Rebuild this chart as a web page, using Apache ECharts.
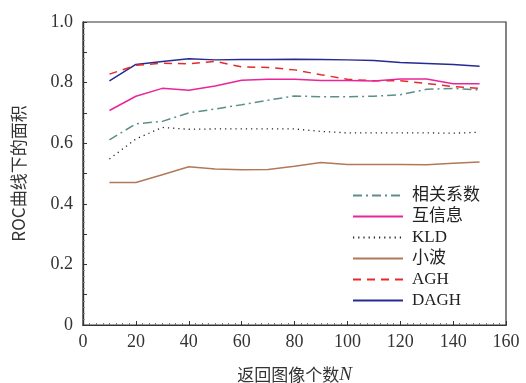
<!DOCTYPE html>
<html>
<head>
<meta charset="utf-8">
<script src="https://cdn.jsdelivr.net/npm/echarts@6/dist/echarts.min.js"></script>
<style>
html,body{margin:0;padding:0;background:#fff;}
#c{width:526px;height:383px;}
</style>
</head>
<body>
<div id="c"></div>
<script>
const xValues = [10, 20, 30, 40, 50, 60, 70, 80, 90, 100, 110, 120, 130, 140, 150];
const seriesNames = ['相关系数', '互信息', 'KLD', '小波', 'AGH', 'DAGH'];
const corr    = [0.611, 0.664, 0.672, 0.700, 0.713, 0.727, 0.742, 0.756, 0.753, 0.753, 0.755, 0.760, 0.778, 0.781, 0.776];
const mutual  = [0.708, 0.755, 0.781, 0.775, 0.789, 0.808, 0.811, 0.811, 0.807, 0.807, 0.805, 0.812, 0.812, 0.796, 0.796];
const kld     = [0.548, 0.614, 0.652, 0.646, 0.647, 0.647, 0.647, 0.647, 0.639, 0.634, 0.634, 0.634, 0.634, 0.633, 0.636];
const wavelet = [0.470, 0.470, 0.496, 0.522, 0.515, 0.512, 0.513, 0.524, 0.536, 0.530, 0.530, 0.530, 0.529, 0.534, 0.538];
const agh     = [0.828, 0.857, 0.864, 0.862, 0.870, 0.852, 0.850, 0.842, 0.826, 0.811, 0.806, 0.806, 0.797, 0.787, 0.781];
const dagh    = [0.806, 0.860, 0.870, 0.879, 0.875, 0.876, 0.876, 0.877, 0.876, 0.875, 0.873, 0.866, 0.863, 0.860, 0.854];
const yTickLabels = ['0', '0.2', '0.4', '0.6', '0.8', '1.0'];

const serif = '"Liberation Serif", "DejaVu Serif", "Noto Sans CJK SC", serif';
const cjk = '"Noto Sans CJK SC", sans-serif';
const colors = ['#5e8e8a', '#e8259a', '#222222', '#b07a58', '#e52a2a', '#262a92'];
const styles = [[9, 4, 2, 4], 'solid', [1.2, 4], 'solid', [8, 6], 'solid'];
const dataSets = [corr, mutual, kld, wavelet, agh, dagh];

function pairs(vals) { return xValues.map((x, i) => [x, vals[i]]); }

const axisLineStyle = { color: '#333', width: 1.2 };
const chart = echarts.init(document.getElementById('c'));
chart.setOption({
  animation: false,
  backgroundColor: '#fff',
  grid: { left: 83, right: 20, top: 22, bottom: 58, show: true, borderColor: '#333', borderWidth: 1.2,
          containLabel: false, outerBoundsMode: 'none' },
  legend: {
    orient: 'vertical', left: 347, top: 182,
    itemWidth: 50, itemHeight: 14, itemGap: 4,
    itemStyle: { opacity: 0 },
    textStyle: { fontFamily: serif, fontSize: 17, color: '#222', padding: [0, 0, 0, 4] },
    data: seriesNames
  },
  xAxis: [{
    type: 'value', min: 0, max: 160, interval: 20,
    axisLine: { lineStyle: axisLineStyle },
    axisTick: { inside: true, length: 4, lineStyle: { color: '#333' } },
    minorTick: { show: true, splitNumber: 8, length: 2, lineStyle: { color: '#777' } },
    splitLine: { show: false },
    axisLabel: { fontFamily: serif, fontSize: 18, color: '#333', margin: 8 },
    name: '{a|返回图像个数}{b|N}', nameLocation: 'middle', nameGap: 40,
    nameTextStyle: { rich: {
      a: { fontFamily: cjk, fontSize: 17, color: '#333' },
      b: { fontFamily: serif, fontStyle: 'italic', fontSize: 19, color: '#333' }
    } }
  }, {
    type: 'value', min: 0, max: 160, interval: 20, position: 'top',
    axisLine: { show: true, lineStyle: axisLineStyle },
    axisTick: { show: false },
    minorTick: { show: true, splitNumber: 8, length: 2, lineStyle: { color: '#777' } },
    splitLine: { show: false }, axisLabel: { show: false }
  }],
  yAxis: [{
    type: 'value', min: 0, max: 1, interval: 0.1,
    axisLine: { show: true, lineStyle: axisLineStyle },
    axisTick: { show: true, inside: true, length: 4, lineStyle: { color: '#333' } },
    minorTick: { show: true, splitNumber: 5, length: 1.5, lineStyle: { color: '#777' } },
    splitLine: { show: false },
    axisLabel: {
      fontFamily: serif, fontSize: 18, color: '#333', margin: 10,
      formatter: function (v) {
        const k = Math.round(v * 10);
        return k % 2 === 0 ? yTickLabels[k / 2] : '';
      }
    },
    name: 'ROC曲线下的面积', nameLocation: 'middle', nameGap: 56, nameRotate: 90,
    nameTextStyle: { fontFamily: cjk, fontSize: 17, color: '#333' }
  }, {
    type: 'value', min: 0, max: 1, interval: 0.1, position: 'right',
    axisLine: { show: true, lineStyle: axisLineStyle },
    axisTick: { show: false },
    minorTick: { show: true, splitNumber: 5, length: 1.5, lineStyle: { color: '#777' } },
    splitLine: { show: false }, axisLabel: { show: false }
  }],
  series: seriesNames.map((name, i) => ({
    name: name, type: 'line', data: pairs(dataSets[i]),
    symbol: 'none', showSymbol: false,
    color: colors[i],
    lineStyle: { color: colors[i], width: i === 2 ? 1.3 : 1.5, type: styles[i] },
    z: 10 - i
  }))
});
</script>
</body>
</html>
